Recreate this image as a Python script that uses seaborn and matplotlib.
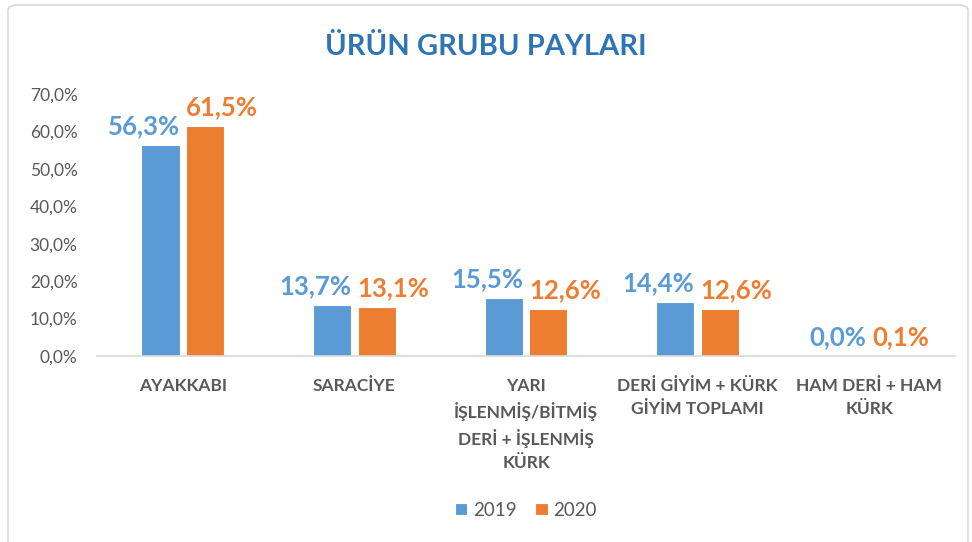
import matplotlib
matplotlib.use("Agg")
import matplotlib.pyplot as plt
import seaborn as sns
import pandas as pd
from matplotlib.patches import FancyBboxPatch

categories = ["AYAKKABI", "SARACİYE", "YARI\nİŞLENMİŞ/BİTMİŞ\nDERİ + İŞLENMİŞ\nKÜRK",
              "DERİ GİYİM + KÜRK\nGİYİM TOPLAMI", "HAM DERİ + HAM\nKÜRK"]
years = ["2019", "2020"]
values_2019 = [56.3, 13.7, 15.5, 14.4, 0.0]
values_2020 = [61.5, 13.1, 12.6, 12.6, 0.1]
yticks = [0, 10, 20, 30, 40, 50, 60, 70]

colors = {"2019": "#5B9BD5", "2020": "#ED7D31"}
FONT = ["Lato", "DejaVu Sans"]

df = pd.DataFrame({
    "cat": categories * 2,
    "year": [years[0]] * len(categories) + [years[1]] * len(categories),
    "val": values_2019 + values_2020,
})

sns.set_theme(style="white")
plt.rcParams["font.family"] = FONT

fig = plt.figure(figsize=(9.72, 5.42), dpi=100)
ax = fig.add_axes([97/972, 1-356/542, (955-97)/972, (356-94)/542])

sns.barplot(data=df, x="cat", y="val", hue="year", palette=colors, ax=ax,
            width=0.52, gap=0.14, saturation=1, edgecolor="white", linewidth=0.8,
            legend=True)

ax.set_ylim(0, 70)
ax.set_xlim(-0.5, len(categories) - 0.5)
ax.set_yticks(yticks)
ax.set_yticklabels([f"{v:.1f}".replace(".", ",") + "%" for v in yticks],
                   color="#595959", fontsize=12.5)
ax.tick_params(axis="y", length=0, pad=14)
ax.tick_params(axis="x", length=0, pad=16)
for lab in ax.get_xticklabels():
    lab.set_fontweight("bold")
    lab.set_color("#595959")
    lab.set_fontsize(12.5)
    lab.set_linespacing(1.5)
ax.set_xlabel("")
ax.set_ylabel("")
for s in ["top", "right", "left"]:
    ax.spines[s].set_visible(False)
ax.spines["bottom"].set_color("#D9D9D9")
ax.spines["bottom"].set_linewidth(1.2)

# data labels
for cont, yr in zip(ax.containers, years):
    for bar, v in zip(cont, cont.datavalues):
        txt = f"{v:.1f}".replace(".", ",") + "%"
        if yr == "2019":
            x = bar.get_x() + bar.get_width()
            ha = "right"
        else:
            x = bar.get_x()
            ha = "left"
        ax.annotate(txt, (x, bar.get_height()), xytext=(0, 5), textcoords="offset points",
                    ha=ha, va="bottom", fontsize=18.5, fontweight="bold", color=colors[yr])

leg = ax.legend(loc="center", bbox_to_anchor=(0.5, (356 - 510) / (356 - 94)), ncol=2,
                frameon=False, fontsize=13.5, handlelength=0.65, handleheight=0.65,
                handletextpad=0.3, columnspacing=1.0)
for t in leg.get_texts():
    t.set_color("#595959")

fig.text(0.5, 1 - 47/542, "ÜRÜN GRUBU PAYLARI", ha="center", va="center",
         fontsize=21, fontweight="bold", color="#2E75B6")

border = FancyBboxPatch((8/972, -0.02), (968-8)/972, 1 - 5/542 + 0.02,
                        boxstyle="round,pad=0,rounding_size=0.01",
                        transform=fig.transFigure, fill=False,
                        edgecolor="#D9D9D9", linewidth=1.2)
fig.patches.append(border)

fig.savefig("out.png", dpi=100)
